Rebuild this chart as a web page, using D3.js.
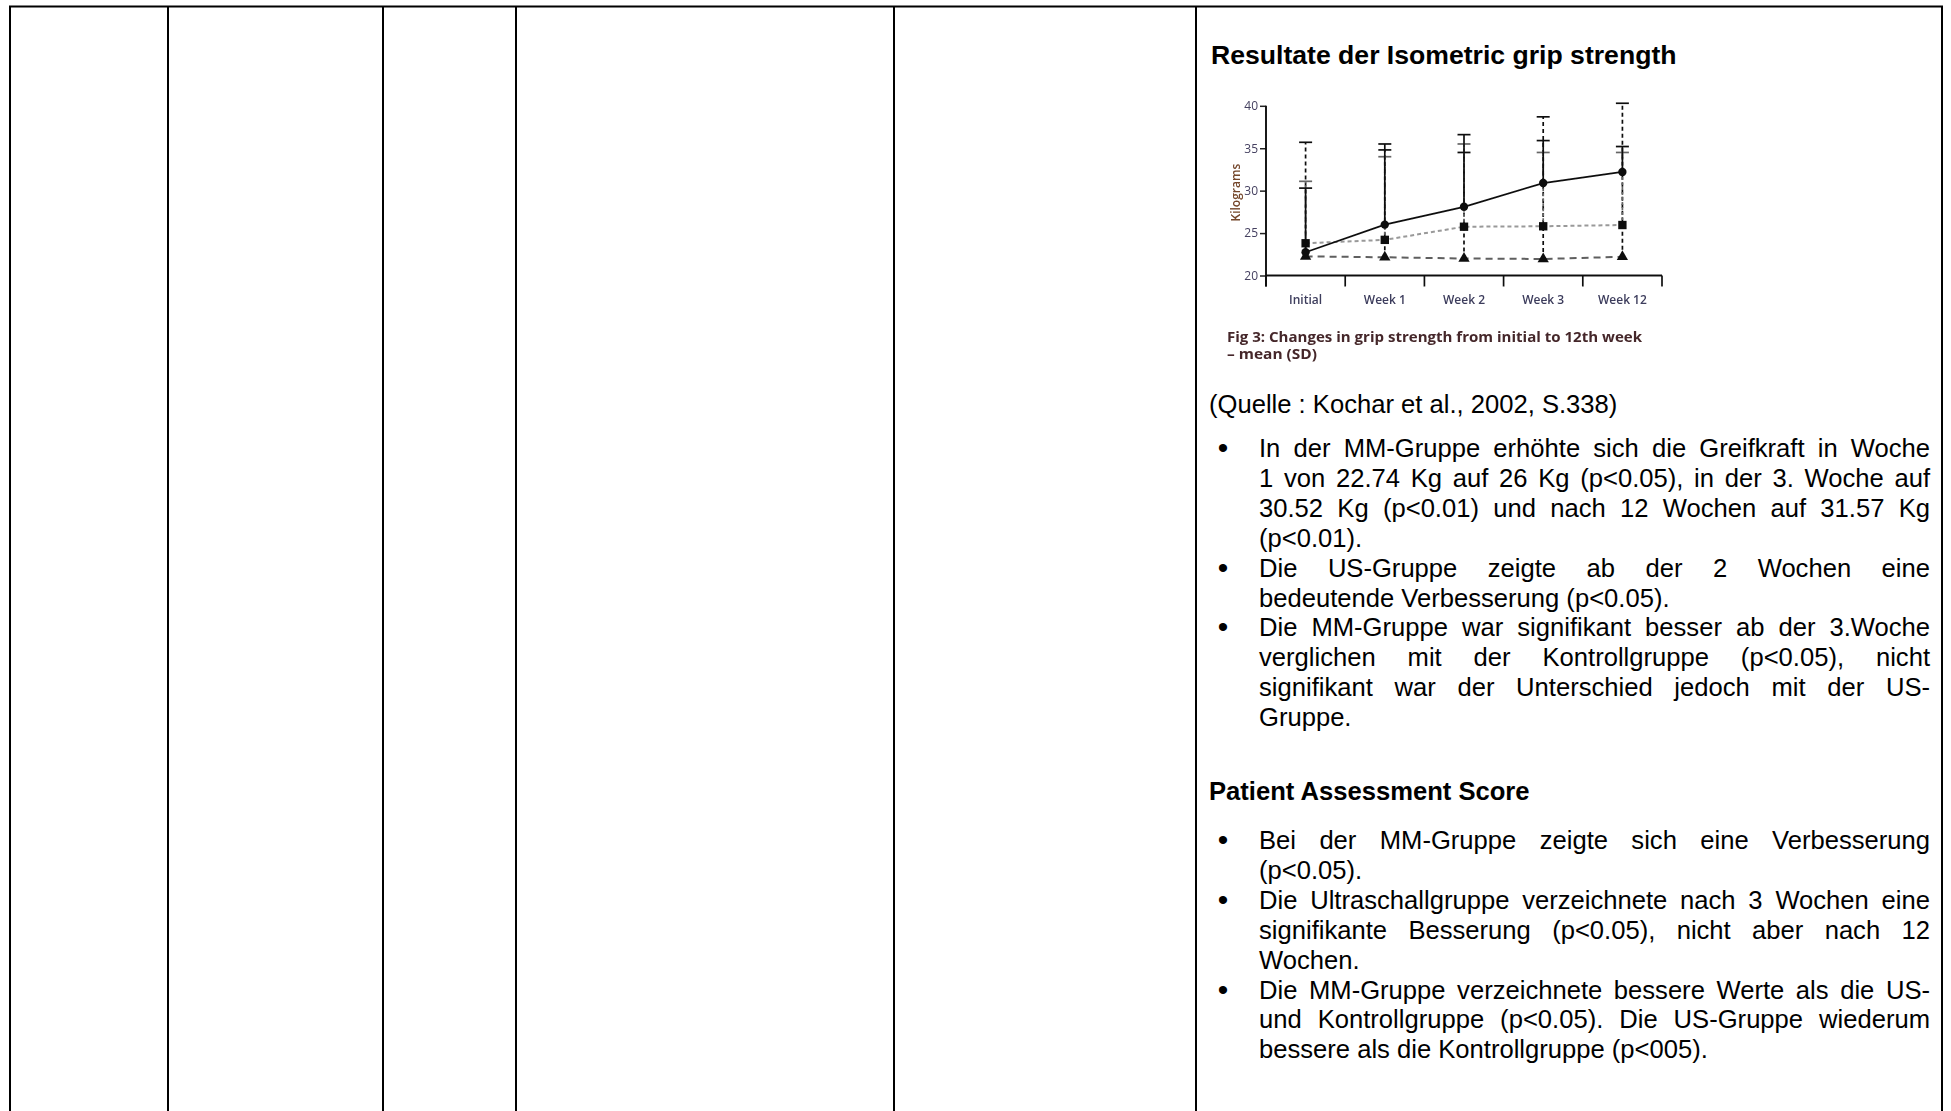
<!DOCTYPE html>
<html lang="de">
<head>
<meta charset="utf-8">
<title>Resultate der Isometric grip strength</title>
<script src="https://cdn.jsdelivr.net/npm/d3@7"></script>
<style>
  html, body { margin: 0; padding: 0; background: #ffffff; }
  svg { display: block; }
</style>
</head>
<body>
<svg id="page" width="1951" height="1111"></svg>
<script>
// ---- chart data: grip strength in kilograms, mean and upper SD bound ----
const categories = ["Initial", "Week 1", "Week 2", "Week 3", "Week 12"];
const yTicks = [20, 25, 30, 35, 40];

const mmMean    = [22.74, 26.0, 28.1, 30.9, 32.2];
const mmUpper   = [30.3, 35.5, 36.6, 35.9, 35.2];
const usMean    = [23.8, 24.2, 25.75, 25.8, 25.95];
const usUpper   = [31.1, 34.0, 35.5, 34.5, 34.5];
const ctrlMean  = [22.25, 22.15, 22.0, 21.95, 22.2];
const ctrlUpper = [35.7, 34.8, 34.5, 38.7, 40.3];

const chartTitle = "Resultate der Isometric grip strength";
const yAxisLabel = "Kilograms";
const captionLines = ["Fig 3: Changes in grip strength from initial to 12th week", "\u2013 mean (SD)"];

// ---- text of the cell ----
const sourceLine = "(Quelle : Kochar et al., 2002, S.338)";
const gripBullets = [
  ["In der MM-Gruppe erhöhte sich die Greifkraft in Woche",
   "1 von 22.74 Kg auf 26 Kg (p<0.05), in der 3. Woche auf",
   "30.52 Kg (p<0.01) und nach 12 Wochen auf 31.57 Kg",
   "(p<0.01)."],
  ["Die US-Gruppe zeigte ab der 2 Wochen eine",
   "bedeutende Verbesserung (p<0.05)."],
  ["Die MM-Gruppe war signifikant besser ab der 3.Woche",
   "verglichen mit der Kontrollgruppe (p<0.05), nicht",
   "signifikant war der Unterschied jedoch mit der US-",
   "Gruppe."]
];
const pasHeading = "Patient Assessment Score";
const pasBullets = [
  ["Bei der MM-Gruppe zeigte sich eine Verbesserung",
   "(p<0.05)."],
  ["Die Ultraschallgruppe verzeichnete nach 3 Wochen eine",
   "signifikante Besserung (p<0.05), nicht aber nach 12",
   "Wochen."],
  ["Die MM-Gruppe verzeichnete bessere Werte als die US-",
   "und Kontrollgruppe (p<0.05). Die US-Gruppe wiederum",
   "bessere als die Kontrollgruppe (p<005)."]
];

// table column borders
const columnEdges = [10, 168, 383, 516, 894, 1196, 1942];

const svg = d3.select("#page");

// ---- table grid ----
const grid = svg.append("g").attr("stroke", "#000").attr("stroke-width", 2);
grid.append("line").attr("x1", 9).attr("x2", 1943).attr("y1", 6.5).attr("y2", 6.5);
grid.selectAll("line.col").data(columnEdges).join("line")
  .attr("class", "col")
  .attr("x1", d => d).attr("x2", d => d)
  .attr("y1", 6).attr("y2", 1111);

// ---- text block ----
const bodyFont = "'Liberation Sans', Arial, Helvetica, sans-serif";
const textLeft = 1259, textRight = 1930, bulletX = 1223;
const lineStep = 29.9;

svg.append("text")
  .attr("x", 1211).attr("y", 64)
  .attr("font-family", bodyFont).attr("font-weight", "bold").attr("font-size", 26.6)
  .text(chartTitle);

svg.append("text")
  .attr("x", 1209).attr("y", 413)
  .attr("font-family", bodyFont).attr("font-size", 25.6)
  .text(sourceLine);

svg.append("text")
  .attr("x", 1209).attr("y", 800)
  .attr("font-family", bodyFont).attr("font-weight", "bold").attr("font-size", 25.6)
  .text(pasHeading);

function drawBullets(bullets, startY) {
  let y = startY;
  const g = svg.append("g").attr("font-family", bodyFont).attr("font-size", 25.6).attr("fill", "#000");
  bullets.forEach(lines => {
    g.append("text").attr("x", bulletX).attr("y", y + 1).attr("text-anchor", "middle")
      .attr("font-size", 30).text("\u2022");
    lines.forEach((ln, i) => {
      const t = g.append("text").attr("x", textLeft).attr("y", y).text(ln);
      if (i < lines.length - 1) {
        const natural = t.node().getComputedTextLength();
        const gaps = (ln.match(/ /g) || []).length;
        if (gaps) t.attr("word-spacing", (textRight - textLeft - natural) / gaps);
      }
      y += lineStep;
    });
  });
}
drawBullets(gripBullets, 457);
drawBullets(pasBullets, 849);

// ---- chart ----
const chartFont = "'Open Sans', 'Noto Sans', sans-serif";
const chart = svg.append("g");
const soft = svg.append("defs").append("filter").attr("id", "soft");
soft.append("feGaussianBlur").attr("stdDeviation", 0.4);
chart.attr("filter", "url(#soft)");

const x = d3.scaleBand().domain(categories).range([1266, 1662]).padding(0);
const y = d3.scaleLinear().domain([20, 40]).range([275.5, 105.8]);
const cx = c => x(c) + x.bandwidth() / 2;

// y axis
const yAxis = chart.append("g").attr("transform", "translate(1266,0)")
  .call(d3.axisLeft(y).tickValues(yTicks).tickSize(6).tickPadding(2).tickFormat(d3.format("d")));
yAxis.select(".domain").remove();
yAxis.selectAll(".tick line").attr("stroke", "#222").attr("stroke-width", 1.5);
yAxis.selectAll(".tick text")
  .attr("font-family", chartFont).attr("font-size", 12).attr("fill", "#454060");
chart.append("line")
  .attr("x1", 1266).attr("x2", 1266).attr("y1", y(40)).attr("y2", y(20) + 11)
  .attr("stroke", "#111").attr("stroke-width", 1.9);

// x axis
chart.append("line")
  .attr("x1", 1266).attr("x2", x.range()[1]).attr("y1", y(20)).attr("y2", y(20))
  .attr("stroke", "#111").attr("stroke-width", 1.9);
const bounds = categories.map(c => x(c)).concat([x.range()[1]]);
chart.selectAll("line.xtick").data(bounds).join("line")
  .attr("class", "xtick")
  .attr("x1", d => d).attr("x2", d => d)
  .attr("y1", y(20)).attr("y2", y(20) + 11)
  .attr("stroke", "#111").attr("stroke-width", 1.7);
const xAxis = chart.append("g").attr("transform", `translate(0,${y(20)})`)
  .call(d3.axisBottom(x).tickSize(0).tickPadding(20));
xAxis.select(".domain").remove();
xAxis.selectAll(".tick text")
  .attr("font-family", chartFont).attr("font-size", 12).attr("font-weight", 600).attr("fill", "#3c3c5c");

// y axis title
chart.append("text")
  .attr("transform", `translate(1240,${(y(20) + y(40)) / 2 + 2}) rotate(-90)`)
  .attr("text-anchor", "middle")
  .attr("font-family", chartFont).attr("font-size", 12).attr("font-weight", 600).attr("fill", "#74462a")
  .text(yAxisLabel);

// series definitions
const series = [
  { mean: ctrlMean, upper: ctrlUpper, line: "#5e5e5e", dash: "7,5", bar: "#111", barDash: "4,3", marker: "triangle" },
  { mean: usMean, upper: usUpper, line: "#999", dash: "4,3", bar: "#666", barDash: "3,2", marker: "square" },
  { mean: mmMean, upper: mmUpper, line: "#111", dash: null, bar: "#111", barDash: null, marker: "circle" }
];

// error bars (upper SD only)
series.forEach(s => {
  const g = chart.append("g").attr("stroke", s.bar).attr("stroke-width", 1.7).attr("fill", "none");
  g.selectAll("line.bar").data(categories).join("line")
    .attr("class", "bar")
    .attr("x1", c => cx(c)).attr("x2", c => cx(c))
    .attr("y1", (c, i) => y(s.mean[i])).attr("y2", (c, i) => y(s.upper[i]))
    .attr("stroke-dasharray", s.barDash);
  g.selectAll("line.cap").data(categories).join("line")
    .attr("class", "cap")
    .attr("x1", c => cx(c) - 6.5).attr("x2", c => cx(c) + 6.5)
    .attr("y1", (c, i) => y(s.upper[i])).attr("y2", (c, i) => y(s.upper[i]));
});

// connecting lines
series.forEach(s => {
  chart.append("path")
    .datum(categories)
    .attr("fill", "none")
    .attr("stroke", s.line)
    .attr("stroke-width", s.dash ? 2 : 1.8)
    .attr("stroke-dasharray", s.dash)
    .attr("d", d3.line().x(c => cx(c)).y((c, i) => y(s.mean[i])));
});

// markers
const symbolType = { triangle: d3.symbolTriangle, square: d3.symbolSquare, circle: d3.symbolCircle };
const symbolSize = { triangle: 55, square: 70, circle: 55 };
series.forEach(s => {
  chart.selectAll(null).data(categories).join("path")
    .attr("transform", (c, i) => `translate(${cx(c)},${y(s.mean[i])})`)
    .attr("d", d3.symbol().type(symbolType[s.marker]).size(symbolSize[s.marker]))
    .attr("fill", "#111");
});

// caption
const cap = chart.append("g").attr("font-family", chartFont).attr("font-weight", "bold")
  .attr("font-size", 14).attr("fill", "#45282a");
cap.append("text").attr("x", 1227).attr("y", 342)
  .attr("textLength", 415).attr("lengthAdjust", "spacingAndGlyphs").text(captionLines[0]);
cap.append("text").attr("x", 1227).attr("y", 359)
  .attr("textLength", 90).attr("lengthAdjust", "spacingAndGlyphs").text(captionLines[1]);
</script>
</body>
</html>
